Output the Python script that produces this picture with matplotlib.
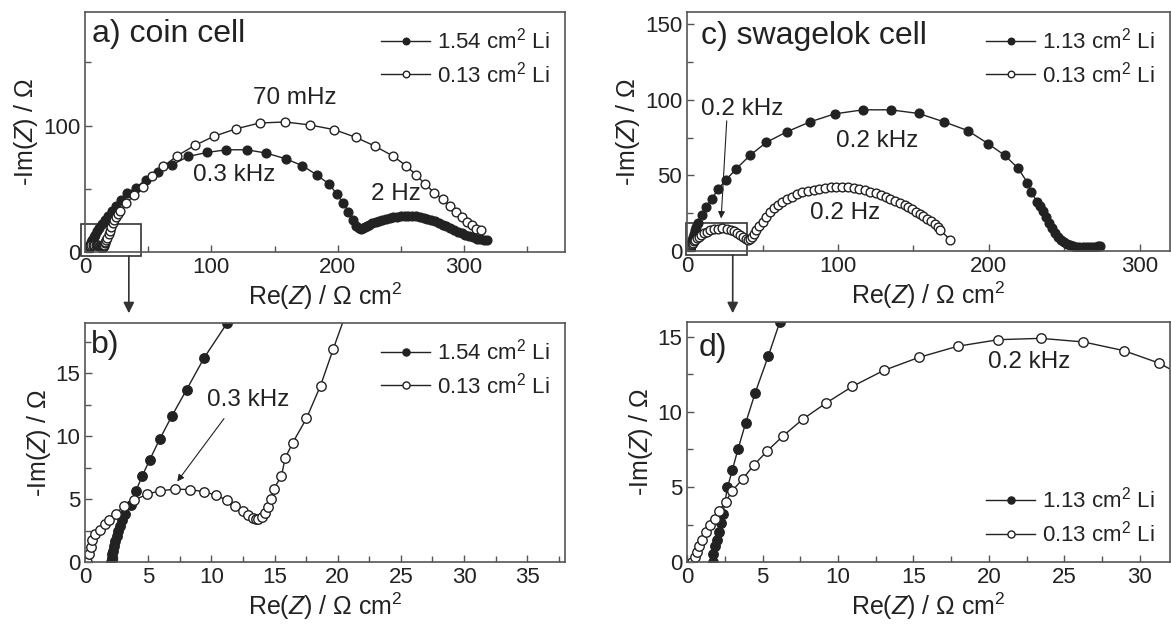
import matplotlib
matplotlib.use('Agg')
import matplotlib.pyplot as plt
from matplotlib.patches import Rectangle
from matplotlib.ticker import MultipleLocator

plt.rcParams['font.family'] = ['Liberation Sans', 'DejaVu Sans']
plt.rcParams['mathtext.fontset'] = 'custom'
plt.rcParams['mathtext.rm'] = 'Liberation Sans'
plt.rcParams['mathtext.it'] = 'Liberation Sans:italic'

# coin cell, 1.54 cm2 Li (filled)
coin_big_x = [2.05, 2.1, 2.15, 2.2, 2.3, 2.4, 2.5, 2.6, 2.75, 2.9, 3.15, 3.65, 4.03, 4.53, 5.11,
              5.90, 6.87, 8.04, 9.44, 11.25, 13.3, 15.6, 18.2, 21.2, 24.6, 28.4, 32.9, 40.3, 47.9,
              57.9, 69.0, 81.6, 96.6, 111.9, 128.0, 143.4, 158.7, 171.9, 183.4, 193.4, 199.5,
              204.5, 208.5, 211.8, 214.4, 216.5, 218.5, 220.0, 221.5, 223.0, 225.0, 227.5, 230.0,
              232.5, 235.0, 238.0, 241.0, 244.0, 247.0, 250.0, 253.0, 256.0, 259.0, 262.0, 265.0,
              268.0, 271.0, 274.0, 277.0, 280.0, 283.0, 286.0, 289.0, 292.0, 295.0, 298.0, 301.0,
              304.0, 307.0, 310.0, 313.0, 316.0, 318.5]
coin_big_y = [0.0, 0.3, 0.6, 0.9, 1.3, 1.7, 2.1, 2.5, 2.9, 3.3, 3.85, 4.5, 5.65, 6.85, 8.1,
              9.74, 11.6, 13.7, 16.25, 19.0, 22.0, 25.3, 28.8, 32.5, 36.5, 41.0, 46.4, 50.9, 57.0,
              63.0, 69.0, 75.6, 78.8, 80.9, 80.9, 78.3, 73.8, 68.4, 61.0, 53.6, 45.5,
              38.5, 32.0, 25.4, 20.6, 18.9, 18.3, 18.8, 19.6, 20.5, 21.6, 22.7, 23.8,
              24.6, 25.4, 26.2, 26.9, 27.5, 28.0, 28.4, 28.7, 28.8, 28.7, 28.4, 27.9,
              27.2, 26.3, 25.3, 24.2, 23.0, 21.7, 20.4, 19.0, 17.6, 16.2, 14.9, 13.6,
              12.5, 11.5, 10.6, 9.9, 9.4, 9.2]

# coin cell, 0.13 cm2 Li (open)
coin_small_x = [0.15, 0.29, 0.44, 0.58, 0.82, 1.17, 1.55, 1.90, 2.43, 3.07, 3.89, 4.91, 5.93, 7.16,
                8.33, 9.44, 10.37, 11.22, 11.89, 12.48, 12.92, 13.30, 13.53, 13.73, 14.03, 14.26,
                14.52, 14.76, 14.96, 15.55, 15.84, 16.45, 17.53, 18.64, 19.64, 20.7, 21.8, 23.0,
                24.3, 25.8, 27.6, 32.4, 39.0, 45.5, 53.4, 61.9, 72.9, 86.9, 101.9, 119.2, 138.2,
                158.4, 177.7, 197.4, 214.5, 229.8, 243.5, 254.0, 262.0, 269.3, 276.4, 283.0,
                288.7, 294.0, 298.7, 302.7, 306.6, 309.8, 313.5]
coin_small_y = [0.0, 0.66, 1.2, 1.73, 2.26, 2.52, 3.0, 3.37, 3.85, 4.43, 4.91, 5.39, 5.66, 5.79,
                5.76, 5.58, 5.31, 4.91, 4.43, 4.06, 3.72, 3.53, 3.45, 3.45, 3.58, 3.90,
                4.38, 4.99, 5.84, 6.85, 8.26, 9.50, 11.42, 14.02, 16.91, 19.9, 22.8, 25.5,
                28.0, 30.4, 32.6, 38.5, 45.0, 51.7, 60.5, 67.7, 76.1, 84.4, 91.5, 97.4, 102.1,
                102.9, 100.6, 96.8, 90.7, 83.6, 76.1, 68.4, 61.0, 53.6, 47.0, 41.7,
                36.6, 31.8, 27.3, 23.9, 21.0, 18.3, 17.2]

# swagelok cell, 1.13 cm2 Li (filled)
swag_big_x = [1.70, 1.75, 1.88, 2.00, 2.13, 2.26, 2.38, 2.68, 3.00, 3.38, 3.88, 4.51, 5.39, 6.14,
              7.5, 9.8, 12.5, 16.3, 20.5, 25.8, 32.6, 41.9, 52.6, 65.9, 81.4, 97.7, 116.5, 134.8,
              153.4, 170.4, 185.9, 199.5, 210.5, 219.3, 225.5, 228.0, 231.8, 234.0, 236.0, 238.0,
              240.0, 242.0, 244.0, 246.0, 248.0, 250.0, 252.0, 254.0, 256.0, 258.0, 260.0, 262.0,
              264.0, 266.0, 268.0, 270.0, 272.0, 273.5]
swag_big_y = [0.0, 0.56, 1.05, 1.49, 2.0, 2.6, 3.23, 4.97, 6.13, 7.53, 9.25, 11.26, 13.75, 15.98,
              18.8, 23.5, 29.3, 34.1, 40.8, 47.0, 54.3, 63.4, 71.8, 78.7, 85.3, 90.6, 93.3, 93.3,
              90.9, 85.3, 79.6, 70.9, 63.2, 54.7, 45.2, 39.2, 32.6, 29.5, 26.5, 22.5,
              18.7, 15.2, 12.0, 9.3, 7.2, 5.6, 4.5, 3.7, 3.2, 2.9, 2.7, 2.6,
              2.6, 2.6, 2.7, 2.8, 3.0, 3.2]

# swagelok cell, 0.13 cm2 Li (open)
swag_small_x = [0.33, 0.5, 0.63, 0.8, 1.0, 1.25, 1.5, 1.88, 2.13, 2.56, 3.0, 3.68, 4.41, 5.31, 6.39,
                7.67, 9.2, 10.95, 13.03, 15.36, 17.92, 20.62, 23.43, 26.26, 28.94, 31.27, 33.4,
                35.4, 37.2, 38.8, 40.2, 41.5, 42.8, 44.2, 45.8, 47.6, 50.1, 52.5, 55.1, 57.6, 60.1,
                63.2, 66.4, 69.5, 72.7, 76.4, 80.2, 83.9, 87.7, 91.5, 95.2, 99.0, 102.7, 106.5,
                110.3, 114.0, 117.8, 121.5, 125.3, 128.5, 131.6, 134.7, 137.8, 141.0, 144.1, 146.6,
                149.1, 151.6, 154.1, 156.6, 159.1, 161.6, 164.1, 166.0, 167.9, 174.2]
swag_small_y = [0.0, 0.33, 0.67, 1.05, 1.49, 2.0, 2.45, 2.9, 3.41, 4.03, 4.75, 5.53, 6.44, 7.4, 8.43,
                9.52, 10.59, 11.7, 12.77, 13.64, 14.38, 14.82, 14.91, 14.67, 14.09, 13.26, 12.1,
                10.8, 9.4, 8.1, 7.2, 7.6, 9.3, 11.5, 13.8, 16.2, 19.2, 22.2, 25.5, 28.2, 30.4,
                32.4, 34.1, 35.9, 37.5, 38.8, 39.9, 40.6, 41.2, 41.7, 42.1, 42.4, 42.5, 42.3,
                41.9, 41.1, 40.1, 39.2, 38.1, 36.8, 35.5, 34.3, 33.0, 31.6, 30.1, 28.8,
                27.5, 26.0, 24.4, 22.9, 21.3, 19.5, 17.7, 15.7, 13.7, 7.5]

coin_labels = ['1.54 cm$^2$ Li', '0.13 cm$^2$ Li']
swag_labels = ['1.13 cm$^2$ Li', '0.13 cm$^2$ Li']

ink = '#222222'
frame = '#555555'

fig = plt.figure(figsize=(11.71, 6.29), dpi=100)
ax_a = fig.add_axes([0.0726, 0.5994, 0.410, 0.3816])
ax_b = fig.add_axes([0.0726, 0.1065, 0.410, 0.3800])
ax_c = fig.add_axes([0.5867, 0.6010, 0.4125, 0.3800])
ax_d = fig.add_axes([0.5867, 0.1065, 0.4125, 0.3816])


def draw(ax, bx, by, sx, sy, labels, ms):
    ax.plot(bx, by, '-o', color=ink, lw=1.0, ms=ms, mfc=ink, mec=ink, label=labels[0])
    ax.plot(sx, sy, '-o', color=ink, lw=1.0, ms=ms, mfc='white', mec=ink, mew=1.0, label=labels[1])


def style(ax, xlim, ylim, xmaj, ymaj):
    ax.set_xlim(xlim)
    ax.set_ylim(ylim)
    ax.xaxis.set_major_locator(MultipleLocator(xmaj))
    ax.xaxis.set_minor_locator(MultipleLocator(xmaj / 2))
    ax.yaxis.set_major_locator(MultipleLocator(ymaj))
    ax.yaxis.set_minor_locator(MultipleLocator(ymaj / 2))
    ax.tick_params(which='both', direction='in', top=False, right=False,
                   labelsize=16, color=frame, labelcolor=ink, width=1.0)
    ax.tick_params(which='major', length=5)
    ax.tick_params(which='minor', length=4)
    for s in ax.spines.values():
        s.set_color(frame)
        s.set_linewidth(1.2)
    ax.set_xlabel('Re($Z$) / \u03a9 cm$^2$', fontsize=18, color=ink, labelpad=2)
    ax.set_ylabel('-Im($Z$) / \u03a9', fontsize=18, color=ink, labelpad=2)


draw(ax_a, coin_big_x, coin_big_y, coin_small_x, coin_small_y, coin_labels, 6.3)
draw(ax_b, coin_big_x, coin_big_y, coin_small_x, coin_small_y, coin_labels, 6.8)
draw(ax_c, swag_big_x, swag_big_y, swag_small_x, swag_small_y, swag_labels, 6.3)
draw(ax_d, swag_big_x, swag_big_y, swag_small_x, swag_small_y, swag_labels, 6.8)

style(ax_a, (0, 380), (0, 190), 100, 100)
style(ax_b, (0, 38), (0, 19), 5, 5)
style(ax_c, (0, 320), (0, 158), 100, 50)
style(ax_d, (0, 32), (0, 16), 5, 5)

leg_kw = dict(frameon=False, fontsize=16, handlelength=2.2, handletextpad=0.3,
              labelspacing=0.35, borderaxespad=0.3, markerscale=0.75, labelcolor=ink)
ax_a.legend(loc='upper right', **leg_kw)
ax_b.legend(loc='upper right', **leg_kw)
ax_c.legend(loc='upper right', **leg_kw)
ax_d.legend(loc='lower right', **leg_kw)

ax_a.text(0.015, 0.91, 'a) coin cell', transform=ax_a.transAxes, fontsize=23, color=ink, va='center')
ax_b.text(0.012, 0.91, 'b)', transform=ax_b.transAxes, fontsize=23, color=ink, va='center')
ax_c.text(0.028, 0.90, 'c) swagelok cell', transform=ax_c.transAxes, fontsize=23, color=ink, va='center')
ax_d.text(0.023, 0.89, 'd)', transform=ax_d.transAxes, fontsize=23, color=ink, va='center')

ax_a.text(166, 122, '70 mHz', fontsize=17.5, color=ink, ha='center', va='center')
ax_a.text(118, 61, '0.3 kHz', fontsize=17.5, color=ink, ha='center', va='center')
ax_a.text(246, 46, '2 Hz', fontsize=17.5, color=ink, ha='center', va='center')

ax_b.text(12.9, 12.9, '0.3 kHz', fontsize=17.5, color=ink, ha='center', va='center')
ax_b.annotate('', xy=(7.3, 6.4), xytext=(11.0, 11.4),
              arrowprops=dict(arrowstyle='-|>', color=ink, lw=0.8, mutation_scale=10, shrinkA=0, shrinkB=0))

ax_c.text(36.4, 94, '0.2 kHz', fontsize=17.5, color=ink, ha='center', va='center')
ax_c.annotate('', xy=(22.6, 21.5), xytext=(26.3, 86),
              arrowprops=dict(arrowstyle='-|>', color=ink, lw=0.8, mutation_scale=10, shrinkA=0, shrinkB=0))
ax_c.text(126, 73, '0.2 kHz', fontsize=17.5, color=ink, ha='center', va='center')
ax_c.text(105, 25, '0.2 Hz', fontsize=17.5, color=ink, ha='center', va='center')

ax_d.text(22.7, 13.35, '0.2 kHz', fontsize=17.5, color=ink, ha='center', va='center')

# zoom boxes and arrows down to the lower panels
ax_a.add_patch(Rectangle((-3.4, -3.2), 48.1, 25.4, fill=False, ec='#333333', lw=1.2, clip_on=False))
ax_a.annotate('', xy=(0.110, 0.502), xycoords='figure fraction', xytext=(34.7, -3.2), textcoords='data',
              annotation_clip=False,
              arrowprops=dict(arrowstyle='-|>', color='#333333', lw=1.2, mutation_scale=16, shrinkA=0, shrinkB=0))
ax_c.add_patch(Rectangle((-0.7, -2.7), 40.2, 21.2, fill=False, ec='#333333', lw=1.2, clip_on=False))
ax_c.annotate('', xy=(0.6257, 0.502), xycoords='figure fraction', xytext=(30.3, -2.7), textcoords='data',
              annotation_clip=False,
              arrowprops=dict(arrowstyle='-|>', color='#333333', lw=1.2, mutation_scale=16, shrinkA=0, shrinkB=0))

fig.savefig('out.png', dpi=100)
